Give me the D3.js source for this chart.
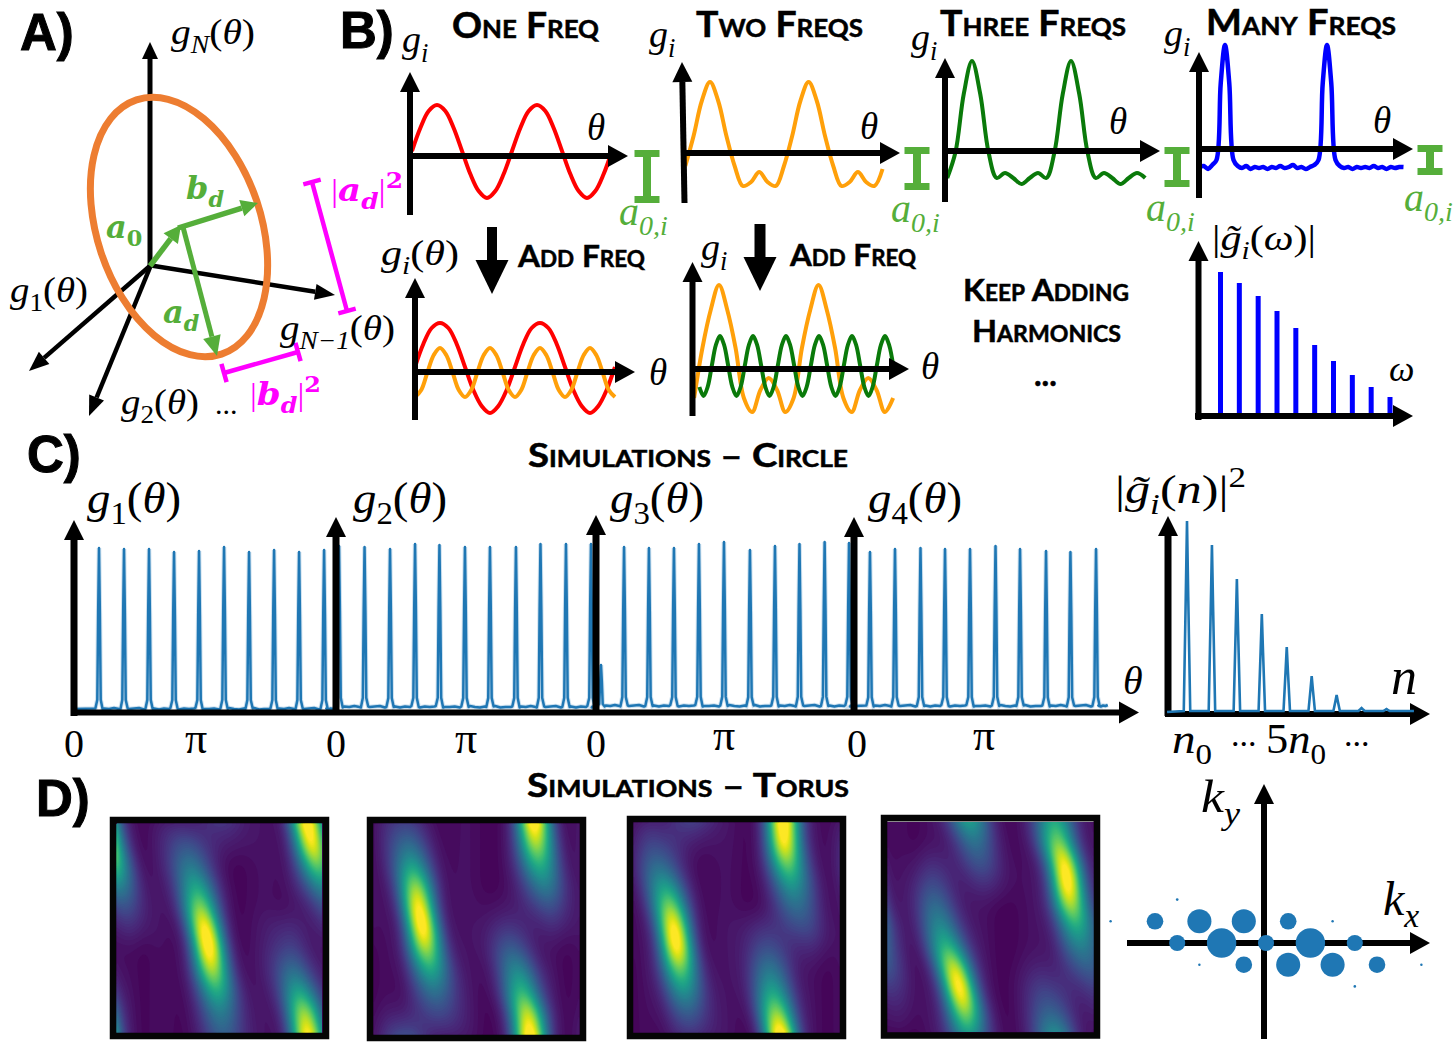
<!DOCTYPE html>
<html><head><meta charset="utf-8">
<script src="https://cdn.jsdelivr.net/npm/d3@7"></script>
<style>
html,body{margin:0;padding:0;background:#fff}
svg{display:block}
text{font-family:"Liberation Serif",serif;fill:#000}
.cap{font-family:Lato,"Open Sans",sans-serif;font-weight:700;font-variant:small-caps;stroke:#000;stroke-width:.5}
.pl{font-family:"Liberation Sans",sans-serif;font-weight:700;stroke:#000;stroke-width:1}
</style></head><body>
<svg id="c" width="1455" height="1045" viewBox="0 0 1455 1045"></svg>
<script>
/* ---------- panel B curves: values read every 15, 30 or 45 degrees of theta ---------- */
const redTop=[5,28,45,51,45,28,5,-18,-35,-42,-35,-18,5,28,45,51,45,28,5,-18,-35,-42,-35,-18,5];
const orangeTop=[-13,17,52,71,52,17,-13,-33,-29,-19,-29,-33,-13,17,52,71,52,17,-13,-33,-29,-19,-29,-33,-16];
const greenTop=[-27,-1,57,90,57,-1,-27,-22,-27,-33,-27,-22,-27,-1,57,90,57,-1,-27,-22,-27,-33,-27,-22,-27];
const blueTop=[-18,-17,-20,-16,-11,66,104,66,-11,-17,-19,-17,-20,-18,-19,-18,-20,-18,-19,-17,-19,-18,-16,-19,-18,-20,-18,-16,-11,66,104,66,-11,-17,-19,-18,-20,-18,-19,-18,-19,-17,-19,-18,-20,-18,-19,-18,-18];
const redLower=[5,28,44,49,44,28,5,-18,-34,-41,-34,-18,5,28,44,49,44,28,5,-18,-34,-41,-34,-18,5];
const orangeLower=[-25,-18,0,17,24,17,0,-18,-25,-18,0,17,24,17,0,-18,-25,-18,0,17,24,17,0,-18,-25,-18,0,17,24,17,0,-18,-25];
const orangeThird=[-28,22,60,85,60,22,-28,-42,-20,-8,-20,-42,-28,22,60,85,60,22,-28,-42,-20,-8,-20,-42,-28];
const greenThird=[-19,-28,-19,2,23,32,23,2,-19,-28,-19,2,23,32,23,2,-19,-28,-19,2,23,32,23,2,-19,-28,-19,2,23,32,23,2,-19,-28,-19,2,23,32,23,2,-19,-28,-19,2,23,32,23,2];
/* ---------- harmonic bar chart ---------- */
const harmonicOrder=[1,2,3,4,5,6,7,8,9,10];
const harmonicAmp=[144,133,120,105,88,71,55,41,29,19];
/* ---------- panel C peaks: position in units of pi, height in arbitrary units ---------- */
const g1Pos=[.205,.41,.615,.82,1.025,1.23,1.435,1.64,1.845,2.05];
const g1Height=[164,163,163,160,161,165,160,162,160,162];
const g2Pos=[.025,.234,.443,.648,.848,1.057,1.262,1.475,1.676,1.885,2.09];
const g2Height=[166,165,163,168,167,165,165,165,168,168,168];
const g3Pos=[.041,.23,.434,.639,.844,1.049,1.262,1.467,1.668,1.874,2.074];
const g3Height=[47,165,164,164,168,170,162,166,168,170,169];
const g4Pos=[.131,.336,.545,.746,.951,1.16,1.361,1.574,1.774,1.984];
const g4Height=[160,163,164,163,163,166,163,161,160,163];
const floorRipple=[.5,1,0,1,.5,1.5,.5,0,1,.5,1,1.5,0,.5];
const fourierOrder=[1,2,3,4,5,6,7,8,9];
const fourierPower=[190,166,132,97,64,35,16,3,2];
/* ---------- panel D ridges: centre and strength per eleven rows of each heat map ---------- */
const t1MainX=[.31,.335,.355,.385,.405,.43,.45,.465,.49,.51,.525];
const t1MainA=[.07,.22,.36,.52,.74,.97,1,.8,.55,.36,.27];
const t1TopX=[.53,.55,.56,.56,.56,.56,.56,.56,.56,.56,.56];
const t1TopA=[.12,.05,0,0,0,0,0,0,0,0,0];
const t1RightX=[.93,.95,.975,1,1.03,1.06,1.08,1.08,1.08,1.08,1.08];
const t1RightA=[1,.95,.7,.4,.2,.08,0,0,0,0,0];
const t1LowX=[.8,.8,.8,.8,.81,.83,.84,.86,.89,.915,.93];
const t1LowA=[0,0,0,0,0,.08,.15,.3,.5,.8,.95];
const t2MainX=[.145,.165,.185,.205,.22,.24,.255,.28,.3,.32,.34];
const t2MainA=[.16,.3,.5,.78,.96,1,.78,.52,.32,.18,.06];
const t2LowX=[.6,.6,.6,.6,.62,.64,.665,.7,.72,.75,.76];
const t2LowA=[0,0,0,0,.03,.12,.25,.42,.58,.85,1];
const t2TopX=[.78,.79,.805,.83,.85,.88,.9,.9,.9,.9,.9];
const t2TopA=[1,.8,.55,.36,.18,.06,0,0,0,0,0];
const t2WrapX=[.13,.13,.13,.13,.13,.13,.13,.13,.13,.13,.145];
const t2WrapA=[0,0,0,0,0,0,0,0,0,.05,.2];
const t3MainX=[.09,.105,.12,.15,.175,.195,.21,.225,.245,.265,.285];
const t3MainA=[.06,.17,.3,.5,.75,.98,.98,.68,.45,.25,.12];
const t3TopX=[.725,.73,.745,.77,.79,.82,.85,.85,.85,.85,.85];
const t3TopA=[1,.95,.68,.45,.3,.18,.06,0,0,0,0];
const t3LowX=[.6,.6,.6,.6,.61,.62,.64,.655,.67,.69,.71];
const t3LowA=[0,0,0,0,0,.1,.2,.35,.5,.75,1];
const t3WrapX=[.29,.29,.29,.29,.29,.29,.29,.29,.29,.29,.29];
const t3WrapA=[.15,.04,0,0,0,0,0,0,0,0,0];
const t4LowX=[.22,.22,.22,.22,.235,.26,.29,.325,.35,.375,.39];
const t4LowA=[0,0,.08,.18,.3,.42,.6,.9,1,.78,.5];
const t4TopX=[.395,.42,.45,.48,.5,.5,.5,.5,.5,.5,.5];
const t4TopA=[.5,.3,.2,.08,0,0,0,0,0,0,0];
const t4RightX=[.81,.825,.86,.875,.89,.92,.94,.97,1,1.03,1.05];
const t4RightA=[.55,.72,.95,1,.8,.55,.38,.25,.12,.05,0];
const t4EdgeX=[.75,.75,.75,.75,.75,.75,.75,.75,.77,.79,.81];
const t4EdgeA=[0,0,0,0,0,0,0,.05,.15,.25,.42];
const stripeLevel=[.02,.04,.015,.045,.03,.015,.04,.05,.02,.015,.04,.05,.03,.045,.015,.04];
/* ---------- panel D spectrum ---------- */
const kxValues=[0,2,-2,4,-4,1,-1,-3,-5,-7,3,-4,-1,1,3,5,-3,7,4];
const kyValues=[0,0,0,0,0,1,1,1,1,1,1,2,-1,-1,-1,-1,-1,-1,-2];
const kWeights=[.3,1,1,.3,.3,.32,.67,.67,.32,.007,.007,.008,.32,.67,.67,.32,.007,.007,.008];

const svg=d3.select("#c");
const AX="#000", GREEN="#55AE3A", MAG="#FF00FF", ORG="#ED7D31", LINE="#1f77b4";

function arrow(x1,y1,x2,y2,o={}){
  const w=o.w??5.5,hl=o.hl??20,hw=o.hw??20,c=o.c??AX;
  const a=Math.atan2(y2-y1,x2-x1),bx=x2-hl*Math.cos(a),by=y2-hl*Math.sin(a);
  const nx=-Math.sin(a),ny=Math.cos(a);
  svg.append("line").attr("x1",x1).attr("y1",y1).attr("x2",bx).attr("y2",by).attr("stroke",c).attr("stroke-width",w);
  svg.append("path").attr("d",d3.line()([[x2,y2],[bx+nx*hw/2,by+ny*hw/2],[bx-nx*hw/2,by-ny*hw/2]])).attr("fill",c);
}
/* parts: [text, kind] — kind letters: i italic, b bold, s sub, u sup */
function math(x,y,parts,size,color,extra={}){
  const t=svg.append("text").attr("x",x).attr("y",y).attr("font-size",size);
  if(color)t.style("fill",color);
  let cur=0;
  parts.forEach(([txt,k=""])=>{
    const ts=t.append("tspan").text(txt);
    let off=0;
    if(k.includes("s")){off=size*.26;ts.attr("font-size",size*.7);}
    if(k.includes("u")){off=-size*.4;ts.attr("font-size",size*.7);}
    if(off!==cur){ts.attr("dy",off-cur);cur=off;}
    if(k.includes("i"))ts.attr("font-style","italic");
    if(k.includes("b"))ts.attr("font-weight","700").style("font-family",'"DejaVu Serif",serif');
    if(color)ts.style("fill",color);
  });
  if(extra.len)t.attr("textLength",extra.len).attr("lengthAdjust","spacingAndGlyphs");
  return t;
}
function caption(x,y,txt,size,len,anchor){
  const t=svg.append("text").attr("class","cap").attr("x",x).attr("y",y).attr("font-size",size).text(txt);
  if(len)t.attr("textLength",len).attr("lengthAdjust","spacingAndGlyphs");
  if(anchor)t.attr("text-anchor",anchor);
}
function panelLabel(x,y,txt){svg.append("text").attr("class","pl").attr("x",x).attr("y",y).attr("font-size",51).text(txt);}

/* ---- Panel labels ---- */
panelLabel(20,50,"A)");panelLabel(340,48,"B)");panelLabel(27,472,"C)");panelLabel(36,816,"D)");

/* ---- Panel A ---- */
arrow(150,268,150,42,{w:5,hl:17,hw:16});
arrow(148,265,335,295,{w:4.5,hl:20,hw:16});
arrow(151,265,29,371,{w:4.5,hl:20,hw:16});
arrow(151,265,89,416,{w:4.5,hl:20,hw:16});
svg.append("ellipse").attr("cx",179).attr("cy",227).attr("rx",82).attr("ry",134)
  .attr("transform","rotate(-18.5 179 227)").attr("fill","none").attr("stroke",ORG).attr("stroke-width",7);
arrow(150,266,181,225,{c:GREEN,w:5.5,hl:17,hw:18});
arrow(178,228,258,203,{c:GREEN,w:5.5,hl:17,hw:17});
arrow(183,227,217,356,{c:GREEN,w:5,hl:20,hw:18});
math(106,238,[["a","ib"],["0","bs"]],32,GREEN);
math(186,199,[["b","ib"],["d","ibs"]],32,GREEN);
math(163,323,[["a","ib"],["d","ibs"]],32,GREEN);
function capLine(x1,y1,x2,y2,capLen){
  const a=Math.atan2(y2-y1,x2-x1),nx=-Math.sin(a)*capLen/2,ny=Math.cos(a)*capLen/2;
  const seg=(p,q)=>svg.append("line").attr("x1",p[0]).attr("y1",p[1]).attr("x2",q[0]).attr("y2",q[1]).attr("stroke",MAG).attr("stroke-width",4.5);
  seg([x1,y1],[x2,y2]);seg([x1+nx,y1+ny],[x1-nx,y1-ny]);seg([x2+nx,y2+ny],[x2-nx,y2-ny]);
}
capLine(312,182,347,311,18);
capLine(224,373,298,352,19);
math(331,201,[["|"],["a","ib"],["d","ibs"],["|"],["2","bu"]],32,MAG,{len:72});
math(250,405,[["|"],["b","ib"],["d","ibs"],["|"],["2","bu"]],32,MAG,{len:71});
math(171,44,[["g","i"],["N","is"],["("],["θ","i"],[")"]],35,null,{len:84});
math(10,302,[["g","i"],["1","s"],["("],["θ","i"],[")"]],35,null,{len:78});
math(121,414,[["g","i"],["2","s"],["("],["θ","i"],[")"]],35,null,{len:78});
math(215,414,[["..."]],30,null);
math(280,340,[["g","i"],["N−1","is"],["("],["θ","i"],[")"]],35,null,{len:115});

/* ---- Panel B helpers ---- */
function curve(vals,startDeg,stepDeg,peakX,period,zeroY,color,width){
  const x=d3.scaleLinear().domain([0,360]).range([peakX,peakX+period]);
  const y=d3.scaleLinear().domain([0,100]).range([zeroY,zeroY-100]);
  const ln=d3.line().x((v,i)=>x(startDeg+i*stepDeg)).y(v=>y(v)).curve(d3.curveCatmullRom.alpha(.5));
  svg.append("path").datum(vals).attr("d",ln).attr("fill","none").attr("stroke",color).attr("stroke-width",width).attr("stroke-linejoin","round");
}
function iBar(x,y1,y2){
  const f=(a,b,w,h)=>svg.append("rect").attr("x",a).attr("y",b).attr("width",w).attr("height",h).attr("fill",GREEN);
  f(x-4,y1,8,y2-y1);f(x-12.5,y1,25,7);f(x-12.5,y2-7,25,7);
}
const RED="#FF0000",ORA="#FFA00A",GRN="#0A7A0A",BLU="#0000FF";

curve(redTop,-90,30,437,100,156,RED,4);
arrow(410,215,410,72,{w:6,hl:20,hw:20});arrow(410,156,628,156,{w:6,hl:20,hw:22});
iBar(647,150,203);

curve(orangeTop,-90,30,710,98.6,153,ORA,4);
arrow(684.5,203,682,62,{w:6,hl:20,hw:20});arrow(684,153,900,153,{w:6,hl:20,hw:22});
iBar(917,147,190);

curve(greenTop,-90,30,972,99,151,GRN,4);
arrow(945,202,945,58,{w:6,hl:20,hw:20});arrow(945,151,1160,151,{w:6,hl:20,hw:22});
iBar(1177,147,187);

curve(blueTop,-90,15,1225,102,149,BLU,4.5);
arrow(1199,198,1199,52,{w:6,hl:20,hw:20});arrow(1199,149,1413,149,{w:6,hl:20,hw:22});
iBar(1430,145,175);

curve(redLower,-90,30,440,100,372,RED,4);
curve(orangeLower,-180,45,440,50,372,ORA,4);
arrow(415,420,415,278,{w:6,hl:20,hw:20});arrow(415,372,635,372,{w:6,hl:20,hw:22});

curve(orangeThird,-90,30,719,99.5,370,ORA,4);
curve(greenThird,-225,45,720,33,368,GRN,4);
arrow(692.5,416,692.5,262,{w:6,hl:20,hw:20});arrow(692,369,909,369,{w:6,hl:20,hw:22});

/* Big down arrows */
arrow(492,227,492,294,{w:10,hl:34,hw:33});
arrow(760,224,760,291,{w:11,hl:34,hw:33});

/* Harmonic bars */
const hx=d3.scaleLinear().domain([1,10]).range([1220.5,1390]);
const hy=d3.scaleLinear().domain([0,144]).range([416,272]);
svg.selectAll(".hbar").data(harmonicAmp).join("rect").attr("class","hbar")
  .attr("x",(d,i)=>hx(harmonicOrder[i])-2.5).attr("width",5).attr("y",d=>hy(d)).attr("height",d=>hy(0)-hy(d)).attr("fill",BLU);
arrow(1198.5,420,1198.5,241,{w:6,hl:20,hw:20});arrow(1195,416,1413,416,{w:6,hl:20,hw:22});

/* Panel B labels */
caption(452,38,"One Freq",36,147);caption(696,37,"Two Freqs",36,167);caption(940,36,"Three Freqs",36,186);caption(1206,35,"Many Freqs",36,190);
caption(518,267,"Add Freq",31,127);caption(790,266,"Add Freq",31,126);
caption(963,301,"Keep Adding",31,166);caption(972,342,"Harmonics",31,149);
caption(1034,386,"...",32);
const gi=(x,y)=>math(x,y,[["g","i"],["i","is"]],38);
gi(402,52);gi(649,47);gi(911,50);gi(1164,46);gi(701,260);
math(381,265,[["g","i"],["i","is"],["("],["θ","i"],[")"]],36,null,{len:78});
[[587,140],[860,139],[1109,134],[1373,133],[649,385],[921,379]].forEach(p=>math(p[0],p[1],[["θ","i"]],37));
const a0i=(x,y)=>math(x,y,[["a","i"],["0,i","is"]],40,GREEN);
a0i(619,225);a0i(891,222);a0i(1146,221);a0i(1404,211);
math(1212,250,[["|"],["g\u0303","i"],["i","is"],["("],["ω","i"],[")|"]],35,null,{len:104});
math(1389,381,[["ω","i"]],36);

/* ---- Panel C ---- */
caption(688,467,"Simulations – Circle",32,320,"middle");
caption(688,797,"Simulations – Torus",32,322,"middle");
const peakOff=[-.03,-.014,-.007,0,.007,.014,.03], peakFrac=[0,.06,.6,1,.6,.06,0];
function spikes(pos,h,x,y,floor,endTheta){
  const pts=[];let r=0;
  const fl=()=>floor+floorRipple[(r++)%floorRipple.length];
  pts.push([0.01,fl()]);
  pos.forEach((p,i)=>{
    peakOff.forEach((o,j)=>{const f=peakFrac[j];pts.push([Math.max(.01,p+o),f===0?fl():floor+(h[i]-floor)*f]);});
    const nxt=i<pos.length-1?pos[i+1]:endTheta;
    [.2,.4,.6,.8].forEach(u=>{const tx=p+(nxt-p)*u;if(tx<endTheta)pts.push([tx,fl()]);});
  });
  pts.push([endTheta,fl()]);
  const ln=d3.line().x(d=>x(d[0])).y(d=>y(d[1]));
  svg.append("path").datum(pts).attr("d",ln).attr("fill","none").attr("stroke",LINE).attr("stroke-width",4.5).attr("stroke-opacity",.22);
  svg.append("path").datum(pts).attr("d",ln).attr("fill","none").attr("stroke",LINE).attr("stroke-width",2.5).attr("stroke-linejoin","round");
}
const cy=d3.scaleLinear().domain([0,200]).range([712,512]);
const piScale=o=>d3.scaleLinear().domain([0,1]).range([o,o+122]);
spikes(g1Pos,g1Height,piScale(74),cy,2.5,2.14);
spikes(g2Pos,g2Height,piScale(336),cy,4.5,2.12);
spikes(g3Pos,g3Height,piScale(596),cy,5.5,2.11);
spikes(g4Pos,g4Height,piScale(854),cy,5.5,2.08);
arrow(74,716,74,520,{w:7,hl:20,hw:20});
arrow(336,714,336,517,{w:7,hl:20,hw:20});
arrow(596,714,596,515,{w:7,hl:20,hw:20});
arrow(854,714,854,517,{w:7,hl:20,hw:20});
arrow(71,712.5,1139,712.5,{w:6,hl:20,hw:22});
const fx=d3.scaleLinear().domain([1,9]).range([1187,1386.5]);
const fPts=[[.2,0]];
fourierOrder.forEach((n,i)=>{[-.13,-.05,0,.05,.13].forEach((o,j)=>fPts.push([n+o,[0,.6,1,.6,0][j]*fourierPower[i]+1]));});
fPts.push([10.1,1]);
arrow(1168,716,1168,516,{w:7,hl:20,hw:20});
arrow(1165,714,1430,714,{w:6,hl:20,hw:22});
svg.append("path").datum(fPts).attr("d",d3.line().x(d=>fx(d[0])).y(d=>cy(d[1]))).attr("fill","none").attr("stroke",LINE).attr("stroke-width",2.6);
const bigG=(x,n)=>math(x,513,[["g","i"],[n,"s"],["("],["θ","i"],[")"]],44,null,{len:94});
bigG(87,"1");bigG(353,"2");bigG(610,"3");bigG(868,"4");
math(1115,503,[["|"],["g\u0303","i"],["i","is"],["("],["n","i"],[")|"],["2","u"]],41,null,{len:131});
[[74,757],[336,757],[596,757],[857,757]].forEach(p=>svg.append("text").attr("x",p[0]).attr("y",p[1]).attr("font-size",40).attr("text-anchor","middle").text("0"));
[[196,753],[466,753],[724,750],[984,750]].forEach(p=>svg.append("text").attr("x",p[0]).attr("y",p[1]).attr("font-size",44).attr("text-anchor","middle").text("π"));
math(1123,694,[["θ","i"]],40);math(1391,694,[["n","i"]],52);
math(1172,753,[["n","i"],["0","s"]],43,null,{len:40});math(1231,746,[["..."]],34);
math(1266,753,[["5"],["n","i"],["0","s"]],43,null,{len:60});math(1344,746,[["..."]],34);

/* ---- Panel D heat maps ---- */
const viridis=d3.scaleSequential(d3.interpolateViridis).domain([0,1]);
const heat=[
 {o:[110,817,329,1039],i:[116.5,823.5,322,1033],r:[[t1MainX,t1MainA],[t1TopX,t1TopA],[t1RightX,t1RightA],[t1LowX,t1LowA]]},
 {o:[367,817,586,1041],i:[373.5,823.5,579.5,1035],r:[[t2MainX,t2MainA],[t2LowX,t2LowA],[t2TopX,t2TopA],[t2WrapX,t2WrapA]]},
 {o:[627,816,846,1039],i:[633.5,822.5,840,1033],r:[[t3MainX,t3MainA],[t3TopX,t3TopA],[t3LowX,t3LowA],[t3WrapX,t3WrapA]]},
 {o:[881,815,1100,1038.5],i:[887.5,821.5,1093.5,1032],r:[[t4LowX,t4LowA],[t4TopX,t4TopA],[t4RightX,t4RightA],[t4EdgeX,t4EdgeA]]}
];
const stripe=d3.interpolateBasis(stripeLevel);
heat.forEach((h,hi)=>{
  const nx=104,ny=106,vals=new Float64Array(nx*ny);
  const rs=h.r.map(([X,A])=>({x:d3.interpolateBasis(X),a:d3.interpolateBasis(A)}));
  for(let j=0;j<ny;j++){const v=(j+.5)/ny;
    for(let i=0;i<nx;i++){const u=(i+.5)/nx;
      let f=stripe(u);
      rs.forEach(r=>{const c=r.x(v),a=Math.max(0,r.a(v)),s=.058+.024*(1-a);
        [-1,0,1].forEach(k=>{const d=u+k-c;f+=a*Math.exp(-d*d/(2*s*s));});});
      vals[j*nx+i]=f;}}
  const [x0,y0,x1,y1]=h.i;
  const fx0=h.o[0]+2,fy0=h.o[1]+2,fx1=h.o[2]-2,fy1=h.o[3]-2;
  const id="clip"+hi;
  svg.append("clipPath").attr("id",id).append("rect").attr("x",fx0).attr("y",fy0).attr("width",fx1-fx0).attr("height",fy1-fy0);
  const g=svg.append("g").attr("clip-path",`url(#${id})`);
  g.append("rect").attr("x",fx0).attr("y",fy0).attr("width",fx1-fx0).attr("height",fy1-fy0).attr("fill",viridis(.015));
  const proj=d3.geoTransform({point(px,py){this.stream.point(x0+px/nx*(x1-x0),y0+py/ny*(y1-y0));}});
  const path=d3.geoPath(proj);
  const thresholds=d3.range(.015,1.02,1/72);
  const conts=d3.contours().size([nx,ny]).thresholds(thresholds)(Array.from(vals));
  g.selectAll("path").data(conts).join("path").attr("d",path).attr("fill",d=>viridis(Math.min(1,d.value*1.04)));
  svg.append("rect").attr("x",h.o[0]+3).attr("y",h.o[1]+3).attr("width",h.o[2]-h.o[0]-6).attr("height",h.o[3]-h.o[1]-6)
    .attr("fill","none").attr("stroke","#050505").attr("stroke-width",6.5);
  if(hi===3)svg.append("line").attr("x1",h.i[0]).attr("x2",h.i[2]).attr("y1",h.i[1]).attr("y2",h.i[1]).attr("stroke","#8a8a8a").attr("stroke-width",1.2);
});

/* ---- Panel D spectrum ---- */
const kx=d3.scaleLinear().domain([-1,1]).range([1266-22.2,1266+22.2]);
const ky=d3.scaleLinear().domain([-1,1]).range([943+21.7,943-21.7]);
const kr=d3.scaleSqrt().domain([0,1]).range([0,14.7]);
arrow(1264,1039,1264,784,{w:6,hl:20,hw:20});
arrow(1127,943,1430,943,{w:6,hl:20,hw:22});
svg.selectAll(".kdot").data(kWeights).join("circle").attr("class","kdot")
  .attr("cx",(d,i)=>kx(kxValues[i])).attr("cy",(d,i)=>ky(kyValues[i])).attr("r",d=>kr(d)).attr("fill",LINE);
math(1201,812,[["k","i"],["y","is"]],46,null,{len:39});
math(1383,915,[["k","i"],["x","is"]],48);
</script>
</body></html>
